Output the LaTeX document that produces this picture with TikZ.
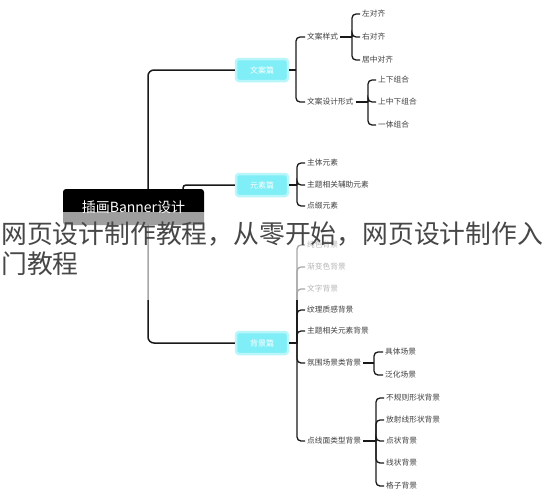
\documentclass[tikz,border=0pt]{standalone}
\usepackage{fontspec}
\setmainfont{Noto Sans CJK SC}
\definecolor{mycyan}{RGB}{128,238,246}
\begin{document}
\begin{tikzpicture}[x=1pt,y=-1pt,
  lbl/.style={anchor=west, inner sep=2pt, font=\fontsize{7.7}{9}\selectfont, text=black!75},
  conn/.style={draw=black!90, line width=1.3pt, rounded corners=4pt},
  mainconn/.style={draw=black!90, line width=1.5pt, rounded corners=6pt},
  cbox/.style={fill=mycyan, draw=mycyan!55, line width=2.5pt, rounded corners=3pt, minimum width=52pt, minimum height=22pt, text=white, font=\fontsize{8}{9}\selectfont},
  rootbox/.style={fill=black, rounded corners=3pt, minimum width=141pt, minimum height=36pt, text=white, font=\fontsize{14}{16}\selectfont},
  captext/.style={anchor=west, inner sep=0pt, font=\fontsize{25.8}{28}\selectfont, text=black!72}]
\useasboundingbox (0,0) rectangle (545,490);
\fill[white] (0,0) rectangle (545,490);

% root and level-1 boxes
\node[rootbox] (root) at (133.5,207) {插画Banner设计};
\node[cbox] (b1) at (262,70) {文案篇};
\node[cbox] (b2) at (262,185) {元素篇};
\node[cbox] (b3) at (262,343) {背景篇};

\draw[mainconn] ([xshift=14.5pt]root.north) |- (b1.west);
\draw[mainconn, rounded corners=3pt] ([xshift=49.5pt]root.north) |- (b2.west);
\draw[mainconn] ([xshift=14.5pt]root.south) |- (b3.west);

% ---- branch 1
\node[lbl] (a1) at (305,37) {文案样式};
\node[lbl] (a2) at (305,102) {文案设计形式};
\node[lbl] (a11) at (360,14) {左对齐};
\node[lbl] (a12) at (360,37) {右对齐};
\node[lbl] (a13) at (360,60) {居中对齐};
\node[lbl] (a21) at (376,80) {上下组合};
\node[lbl] (a22) at (376,102) {上中下组合};
\node[lbl] (a23) at (376,125) {一体组合};
\coordinate (s1) at (296,70);
\coordinate (s11) at (352,37);
\coordinate (s12) at (368,102);
\draw[conn] (b1.east) -- (s1);
\draw[conn] (s1) |- (a1.west);
\draw[conn] (s1) |- (a2.west);
\draw[conn] (a1.east) -- (s11);
\draw[conn] (s11) |- (a11.west);
\draw[conn] (s11) |- (a12.west);
\draw[conn] (s11) |- (a13.west);
\draw[conn] (a2.east) -- (s12);
\draw[conn] (s12) |- (a21.west);
\draw[conn] (s12) |- (a22.west);
\draw[conn] (s12) |- (a23.west);

% ---- branch 2
\node[lbl] (e1) at (305,163) {主体元素};
\node[lbl] (e2) at (305,185) {主题相关辅助元素};
\node[lbl] (e3) at (305,206) {点缀元素};
\coordinate (s2) at (297,185);
\draw[conn] (b2.east) -- (s2);
\draw[conn] (s2) |- (e1.west);
\draw[conn] (s2) |- (e2.west);
\draw[conn] (s2) |- (e3.west);

% ---- branch 3
\node[lbl] (g1) at (305,245) {纯色背景};
\node[lbl] (g2) at (305,267) {渐变色背景};
\node[lbl] (g3) at (305,289) {文字背景};
\node[lbl] (g4) at (305,310) {纹理质感背景};
\node[lbl] (g5) at (305,331) {主题相关元素背景};
\node[lbl] (g6) at (305,363) {氛围场景类背景};
\node[lbl] (g7) at (305,441) {点线面类型背景};
\node[lbl] (g61) at (383,352) {具体场景};
\node[lbl] (g62) at (383,375) {泛化场景};
\node[lbl] (g71) at (384,398) {不规则形状背景};
\node[lbl] (g72) at (384,420) {放射线形状背景};
\node[lbl] (g73) at (384,441) {点状背景};
\node[lbl] (g74) at (384,463) {线状背景};
\node[lbl] (g75) at (384,486) {格子背景};
\coordinate (s3) at (297,343);
\coordinate (s36) at (374,363);
\coordinate (s37) at (376,441);
\draw[conn] (b3.east) -- (s3);
\foreach \n in {g1,g2,g3,g4,g5,g6,g7} \draw[conn] (s3) |- (\n.west);
\draw[conn] (g6.east) -- (s36);
\draw[conn] (s36) |- (g61.west);
\draw[conn] (s36) |- (g62.west);
\draw[conn] (g7.east) -- (s37);
\foreach \n in {g71,g72,g73,g74,g75} \draw[conn] (s37) |- (\n.west);

% ---- caption overlay
\fill[white, opacity=0.62] (0,212) rectangle (545,300);
\node[captext] (cap1) at (1,234) {网页设计制作教程，从零开始，网页设计制作入};
\node[captext] (cap2) at (1,264) {门教程};
\end{tikzpicture}
\end{document}
